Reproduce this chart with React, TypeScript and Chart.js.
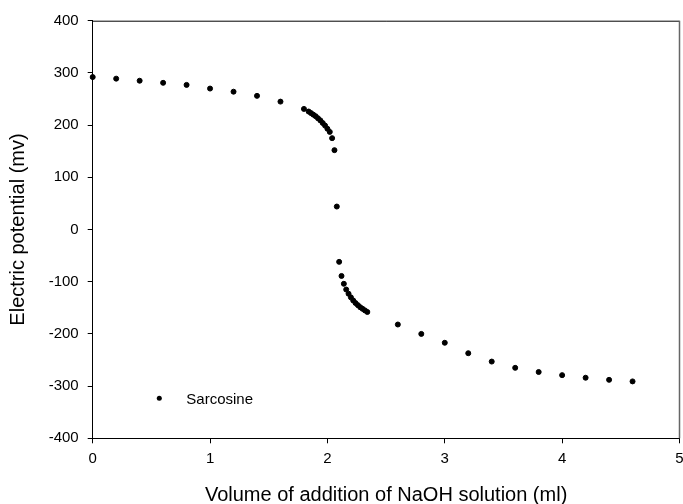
import React, { useEffect, useRef } from "react";
import { Chart, registerables } from "chart.js";

Chart.register(...registerables);

const seriesName = "Sarcosine";
const volumes = [
  0, 0.2, 0.4, 0.6, 0.8, 1.0, 1.2, 1.4, 1.6, 1.8,
  1.84, 1.86, 1.88, 1.9, 1.92, 1.94, 1.96, 1.98, 2.0, 2.02,
  2.04, 2.06, 2.08,
  2.1, 2.12, 2.14, 2.16,
  2.18, 2.2, 2.22, 2.24, 2.26, 2.28, 2.3, 2.32, 2.34,
  2.6, 2.8, 3.0, 3.2, 3.4, 3.6, 3.8, 4.0, 4.2, 4.4, 4.6,
];
const potentials = [
  292, 289, 285, 281, 277, 270, 264, 256, 245, 231,
  226, 223, 220, 217, 213, 209, 204, 199, 193, 187,
  175, 152, 44,
  -62, -89, -104, -115,
  -123, -130, -136, -141, -145, -149, -152, -155, -158,
  -182, -200, -217, -237, -253, -265, -273, -279, -284, -288, -291,
];
const xTitle = "Volume of addition of NaOH solution (ml)";
const yTitle = "Electric potential (mv)";

const FONT = "'Liberation Sans', Arial, sans-serif";

export default function App() {
  const ref = useRef<HTMLCanvasElement | null>(null);

  useEffect(() => {
    if (!ref.current) return;
    const framePlugin = {
      id: "frame",
      afterDraw(chart: any) {
        const { ctx, chartArea } = chart;
        ctx.save();
        ctx.strokeStyle = "#000";
        ctx.lineWidth = 1;
        ctx.beginPath();
        ctx.moveTo(chartArea.left, chartArea.top + 0.5);
        ctx.lineTo(chartArea.right, chartArea.top + 0.5);
        ctx.stroke();
        ctx.strokeStyle = "#666";
        ctx.lineWidth = 1.5;
        ctx.beginPath();
        ctx.moveTo(chartArea.right, chartArea.top);
        ctx.lineTo(chartArea.right, chartArea.bottom);
        ctx.stroke();
        // legend
        const lx = chartArea.left + 66.6;
        const ly = chartArea.bottom - 40;
        ctx.fillStyle = "#000";
        ctx.beginPath();
        ctx.arc(lx, ly, 2.5, 0, Math.PI * 2);
        ctx.fill();
        ctx.font = "15px " + FONT;
        ctx.textBaseline = "middle";
        ctx.textAlign = "left";
        ctx.fillText(seriesName, lx + 27, ly + 1.5);
        ctx.restore();
      },
    };

    const chart = new Chart(ref.current, {
      type: "scatter",
      data: {
        datasets: [
          {
            label: seriesName,
            data: volumes.map((v, i) => ({ x: v, y: potentials[i] })),
            backgroundColor: "#000",
            borderColor: "#000",
            pointRadius: 2.5,
            pointHoverRadius: 2.5,
            clip: false as any,
          },
        ],
      },
      options: {
        animation: false,
        responsive: false,
        devicePixelRatio: 1,
        layout: { padding: { left: 0, top: 20.7, right: 1.3, bottom: 0 } },
        plugins: { legend: { display: false }, tooltip: { enabled: false } },
        scales: {
          x: {
            type: "linear",
            min: 0,
            max: 5,
            afterFit(scale: any) {
              scale.height = 504 - 438.3;
              scale.paddingLeft = 0;
              scale.paddingRight = 0;
            },
            ticks: {
              stepSize: 1,
              color: "#000",
              padding: 7,
              font: { family: FONT, size: 15 },
              maxRotation: 0,
            },
            grid: {
              drawOnChartArea: false,
              drawTicks: true,
              tickLength: 5,
              color: "#000",
            },
            border: { display: true, color: "#000", width: 1 },
            title: {
              display: true,
              text: xTitle,
              color: "#000",
              font: { family: FONT, size: 20, lineHeight: 1 },
              padding: { top: 0, bottom: -1 },
            },
          },
          y: {
            type: "linear",
            min: -400,
            max: 400,
            afterFit(scale: any) {
              scale.width = 92.7;
              scale.paddingTop = 0;
              scale.paddingBottom = 0;
            },
            ticks: {
              stepSize: 100,
              color: "#000",
              padding: 9,
              font: { family: FONT, size: 15 },
            },
            grid: {
              drawOnChartArea: false,
              drawTicks: true,
              tickLength: 5,
              color: "#000",
            },
            border: { display: true, color: "#000", width: 1 },
            title: {
              display: true,
              text: yTitle,
              color: "#000",
              font: { family: FONT, size: 20, lineHeight: 1 },
              padding: { top: 8, bottom: 0 },
            },
          },
        },
      },
      plugins: [framePlugin],
    });
    return () => chart.destroy();
  }, []);

  return (
    <div style={{ position: "fixed", left: 0, top: 0, width: 683, height: 504, background: "#fff" }}>
      <canvas ref={ref} width={683} height={504} style={{ width: 683, height: 504 }} />
    </div>
  );
}
